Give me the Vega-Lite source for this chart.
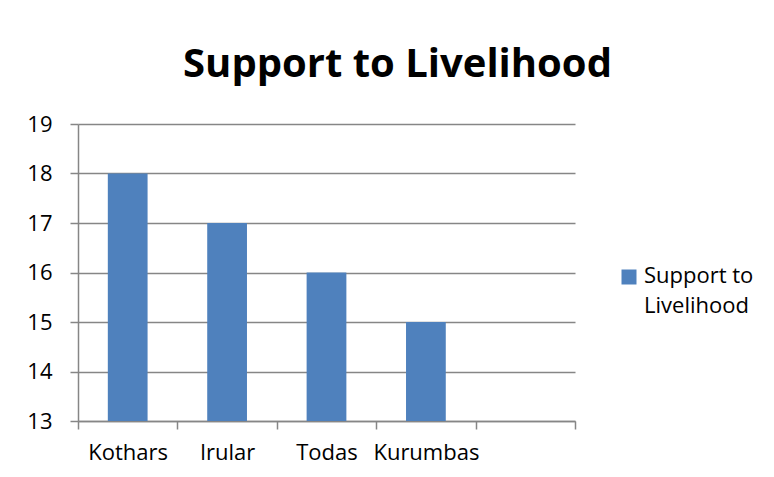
{
  "$schema": "https://vega.github.io/schema/vega-lite/v6.json",
  "width": 497,
  "height": 297,
  "autosize": "none",
  "padding": {"left": 78, "top": 124, "right": 199, "bottom": 56},
  "background": "white",
  "config": {"view": {"stroke": null}, "font": "Open Sans"},
  "title": {"text": "Support to Livelihood", "fontSize": 40, "fontWeight": "bold", "font": "Open Sans", "anchor": "middle", "dx": 71, "offset": 28, "color": "black"},
  "data": {"values": [
    {"tribe": "Kothars", "value": 18},
    {"tribe": "Irular", "value": 17},
    {"tribe": "Todas", "value": 16},
    {"tribe": "Kurumbas", "value": 15}
  ]},
  "mark": {"type": "bar", "width": {"band": 0.4}, "clip": true},
  "encoding": {
    "x": {"field": "tribe", "type": "nominal", "sort": null,
      "scale": {"domain": ["Kothars", "Irular", "Todas", "Kurumbas", ""], "paddingInner": 0, "paddingOuter": 0},
      "axis": {"title": null, "labelAngle": 0, "labelFontSize": 22, "labelColor": "black", "labelPadding": 13, "tickSize": 8, "tickBand": "extent", "domainColor": "#868686", "tickColor": "#868686", "domainWidth": 1.5, "tickWidth": 1.5, "grid": false}},
    "y": {"field": "value", "type": "quantitative",
      "scale": {"domain": [13, 19], "zero": false, "nice": false},
      "axis": {"title": null, "values": [13, 14, 15, 16, 17, 18, 19], "labelFontSize": 22, "labelColor": "black", "labelPadding": 18, "tickSize": 8, "domainColor": "#868686", "tickColor": "#868686", "gridColor": "#868686", "domainWidth": 1.5, "tickWidth": 1.5, "gridWidth": 1.5, "grid": true}},
    "color": {"datum": "Support to Livelihood", "type": "nominal", "scale": {"range": ["#4F81BD"]},
      "legend": {"title": null, "orient": "none", "legendX": 540, "legendY": 142, "padding": 0, "symbolType": "square", "symbolSize": 225, "symbolStrokeWidth": 0, "labelFontSize": 22, "labelColor": "black", "labelOffset": 4, "labelLimit": 300, "labelExpr": "['Support to', 'Livelihood']", "labelBaseline": "top",
        "encode": {"labels": {"update": {"lineHeight": {"value": 30}, "dy": {"value": -11}}}}}}
  }
}
